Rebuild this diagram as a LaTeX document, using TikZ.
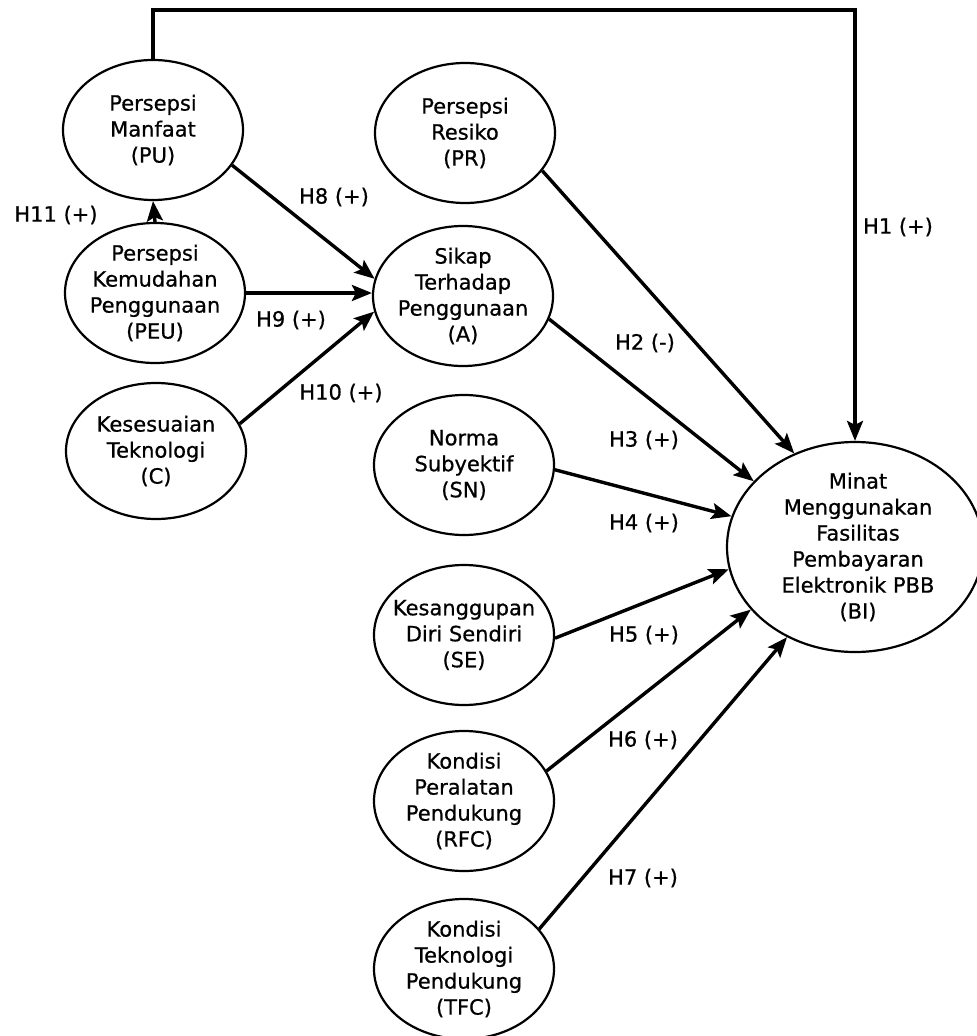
\documentclass[tikz,border=0pt]{standalone}
\usepackage{fontspec}
\setmainfont{DejaVu Sans}
\newfontfamily\diagfont{DejaVu Sans}[FakeBold=0.7]
\usetikzlibrary{shapes.geometric,arrows.meta}
\begin{document}
\begin{tikzpicture}[x=1pt,y=-1pt,
  bub/.style={draw, ellipse, line width=2.2pt, inner sep=0pt,
    minimum width=180pt, minimum height=140pt},
  every label/.style={align=center, font=\diagfont\fontsize{21}{26}\selectfont, inner sep=0pt},
  hyp/.style={font=\diagfont\fontsize{21}{26}\selectfont, inner sep=0pt},
  arr/.style={line width=3.4pt, -{Stealth[length=20pt,width=16pt,inset=4pt]}}]
\useasboundingbox (0,0) rectangle (977,1036);

% constructs, left column
\node[bub, label={center:Persepsi\\Manfaat\\(PU)}] (pu) at (153,130) {};
\node[bub, label={center:Persepsi\\Kemudahan\\Penggunaan\\(PEU)}] (peu) at (155,293) {};
\node[bub, minimum height=136pt, label={center:Kesesuaian\\Teknologi\\(C)}] (c) at (156,451) {};

% constructs, middle column
\node[bub, label={center:Persepsi\\Resiko\\(PR)}] (pr) at (465,133) {};
\node[bub, label={center:Sikap\\Terhadap\\Penggunaan\\(A)}] (a) at (463,296) {};
\node[bub, label={center:Norma\\Subyektif\\(SN)}] (sn) at (464,465) {};
\node[bub, label={center:Kesanggupan\\Diri Sendiri\\(SE)}] (se) at (464,635) {};
\node[bub, label={center:Kondisi\\Peralatan\\Pendukung\\(RFC)}] (rfc) at (464,801) {};
\node[bub, label={center:Kondisi\\Teknologi\\Pendukung\\(TFC)}] (tfc) at (464,969) {};

% dependent construct
\node[bub, minimum width=256pt, minimum height=210pt,
  label={[xshift=3pt]center:Minat\\Menggunakan\\Fasilitas\\Pembayaran\\Elektronik PBB\\(BI)}] (bi) at (855,547) {};

% paths
\coordinate (topy) at (0,10);
\draw[arr] (pu.north) -- (pu.north |- topy) -| (bi.north);
\draw[arr] (peu.north) -- (pu.south);
\draw[arr] (pu.-24) -- (a.169);
\draw[arr] (peu.east) -- (peu.east -| a.west);
\draw[arr] (c.18) -- (a.190);
\draw[arr] (pr.-26) -- (bi.123);
\draw[arr] (a.-15) -- (bi.147);
\draw[arr] (sn.-3) -- (bi.166);
\draw[arr] (se.-2) -- (bi.190);
\draw[arr] (rfc.20) -- (bi.211);
\draw[arr] (tfc.28) -- (bi.233);

% hypothesis labels
\node[hyp] (h1) at (898,227) {H1 (+)};
\node[hyp] (h2) at (645,343) {H2 (-)};
\node[hyp] (h3) at (644,440) {H3 (+)};
\node[hyp] (h4) at (644,523) {H4 (+)};
\node[hyp] (h5) at (644,635) {H5 (+)};
\node[hyp] (h6) at (643,740) {H6 (+)};
\node[hyp] (h7) at (643,878) {H7 (+)};
\node[hyp] (h8) at (334,197) {H8 (+)};
\node[hyp] (h9) at (291,320) {H9 (+)};
\node[hyp] (h10) at (341,393) {H10 (+)};
\node[hyp] (h11) at (56,215) {H11 (+)};
\end{tikzpicture}
\end{document}
